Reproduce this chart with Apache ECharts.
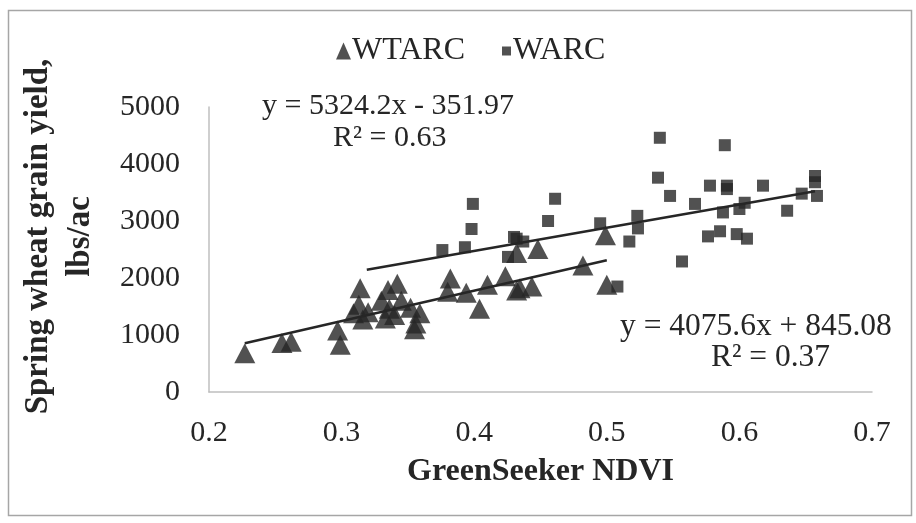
<!DOCTYPE html>
<html>
<head>
<meta charset="utf-8">
<script src="https://cdn.jsdelivr.net/npm/echarts@6/dist/echarts.min.js"></script>
<style>
  html, body { margin: 0; padding: 0; background: #fff; }
  #chart { width: 916px; height: 523px; }
</style>
</head>
<body>
<div id="chart"></div>
<script>
// GreenSeeker NDVI vs. spring wheat grain yield (lbs/ac) at two sites

const xTicks = [0.2, 0.3, 0.4, 0.5, 0.6, 0.7];
const yTicks = [0, 1000, 2000, 3000, 4000, 5000];

// WTARC: [NDVI, yield]
const wtarcNdvi  = [0.227, 0.255, 0.262, 0.297, 0.299, 0.314, 0.313, 0.316, 0.309, 0.320,
                    0.335, 0.342, 0.336, 0.333, 0.340, 0.330, 0.352, 0.359, 0.355, 0.356,
                    0.382, 0.380, 0.394, 0.404, 0.410, 0.4235, 0.4345, 0.4435, 0.432, 0.448,
                    0.432, 0.482, 0.499, 0.500, 0.345];
const wtarcYield = [680, 860, 880, 1080, 830, 1820, 1530, 1270, 1380, 1400,
                    1790, 1900, 1460, 1290, 1350, 1600, 1480, 1380, 1100, 1200,
                    1990, 1760, 1740, 1460, 1880, 2030, 1820, 1850, 1780, 2510,
                    2440, 2220, 2750, 1880, 1600];

// WARC: [NDVI, yield]
const warcNdvi  = [0.376, 0.393, 0.398, 0.399, 0.432, 0.437, 0.4255, 0.4557, 0.461, 0.495,
                   0.517, 0.523, 0.5235, 0.540, 0.5386, 0.5477, 0.5567, 0.5665, 0.5778, 0.589,
                   0.5906, 0.5906, 0.5876, 0.5763, 0.5854, 0.598, 0.6057, 0.600, 0.604, 0.6178,
                   0.636, 0.647, 0.657, 0.657, 0.6585, 0.508, 0.430];
const warcYield = [2490, 2540, 2860, 3300, 2690, 2640, 2370, 3000, 3390, 2960,
                   2640, 3090, 2870, 4460, 3760, 3440, 2290, 3300, 3620, 4330,
                   3620, 3560, 3150, 2730, 2820, 2770, 2690, 3210, 3320, 3620,
                   3180, 3480, 3790, 3680, 3440, 1850, 2720];

// Linear fits: slope, intercept and the NDVI span each line covers
const wtarcFit = { slope: 5324.2, intercept: -351.97, from: 0.227, to: 0.500 };
const warcFit  = { slope: 4075.6, intercept: 845.08, from: 0.319, to: 0.657 };

const eqWtarc = 'y = 5324.2x - 351.97';
const r2Wtarc = 'R² = 0.63';
const eqWarc  = 'y = 4075.6x + 845.08';
const r2Warc  = 'R² = 0.37';

const zip = (xs, ys) => xs.map((x, i) => [x, ys[i]]);
const fitLine = f => [f.from, f.to].map(x => [x, f.slope * x + f.intercept]);

const SERIF = '"Liberation Serif", "Times New Roman", serif';
const INK = '#262626';

const chart = echarts.init(document.getElementById('chart'), null, { renderer: 'canvas' });

chart.setOption({
  backgroundColor: '#ffffff',
  animation: false,
  textStyle: { fontFamily: SERIF, color: INK },
  grid: { left: 209, right: 44, top: 107, bottom: 131, containLabel: false },
  legend: [
    {
      data: [{ name: 'WTARC', icon: 'triangle' }],
      left: 331, top: 30,
      itemWidth: 15, itemHeight: 17, itemGap: 2,
      textStyle: { fontFamily: SERIF, fontSize: 32, color: INK, padding: [0, 0, 0, -4] }
    },
    {
      data: [{ name: 'WARC', icon: 'rect' }],
      left: 497, top: 30,
      itemWidth: 9, itemHeight: 9,
      textStyle: { fontFamily: SERIF, fontSize: 32, color: INK, padding: [0, 0, 0, -3] }
    }
  ],
  xAxis: {
    type: 'value',
    min: xTicks[0], max: xTicks[xTicks.length - 1], interval: 0.1,
    name: 'GreenSeeker NDVI',
    nameLocation: 'middle', nameGap: 64,
    nameTextStyle: { fontFamily: SERIF, fontSize: 32, fontWeight: 'bold', color: INK },
    axisLine: { show: true, lineStyle: { color: '#bfbfbf', width: 1.5 } },
    axisTick: { show: false },
    splitLine: { show: false },
    axisLabel: {
      margin: 26, fontFamily: SERIF, fontSize: 30, color: INK,
      formatter: v => v.toFixed(1)
    }
  },
  yAxis: {
    type: 'value',
    min: yTicks[0], max: yTicks[yTicks.length - 1], interval: 1000,
    name: 'Spring wheat grain yield,\nlbs/ac',
    nameLocation: 'middle', nameGap: 108, nameRotate: 90,
    nameTextStyle: {
      fontFamily: SERIF, fontSize: 33, fontWeight: 'bold', color: INK, lineHeight: 42,
      padding: [0, 0, 0, 26]
    },
    axisLine: { show: true, lineStyle: { color: '#bfbfbf', width: 1.5 } },
    axisTick: { show: false },
    splitLine: { show: false },
    axisLabel: { margin: 29, fontFamily: SERIF, fontSize: 30, color: INK, formatter: v => String(v) }
  },
  series: [
    {
      name: 'WTARC', type: 'scatter',
      symbol: 'triangle', symbolSize: [21, 20],
      itemStyle: { color: INK },
      data: zip(wtarcNdvi, wtarcYield), z: 3
    },
    {
      name: 'WARC', type: 'scatter',
      symbol: 'rect', symbolSize: 12,
      itemStyle: { color: INK },
      data: zip(warcNdvi, warcYield), z: 3
    },
    {
      name: 'WTARC fit', type: 'line', symbol: 'none',
      lineStyle: { color: INK, width: 2.5 },
      data: fitLine(wtarcFit), z: 4
    },
    {
      name: 'WARC fit', type: 'line', symbol: 'none',
      lineStyle: { color: INK, width: 2.5 },
      data: fitLine(warcFit), z: 4
    }
  ],
  graphic: [
    {
      type: 'rect', silent: true,
      shape: { x: 8.5, y: 10.5, width: 903, height: 505 },
      style: { fill: 'none', stroke: '#a6a6a6', lineWidth: 1.5 }
    },
    {
      type: 'text', left: 262, top: 91,
      style: { text: eqWtarc, font: '30px ' + SERIF, fill: INK }
    },
    {
      type: 'text', left: 333, top: 123,
      style: { text: r2Wtarc, font: '30px ' + SERIF, fill: INK }
    },
    {
      type: 'text', left: 620, top: 311,
      style: { text: eqWarc, font: '31.5px ' + SERIF, fill: INK }
    },
    {
      type: 'text', left: 711, top: 342,
      style: { text: r2Warc, font: '31.5px ' + SERIF, fill: INK }
    }
  ]
});
</script>
</body>
</html>
